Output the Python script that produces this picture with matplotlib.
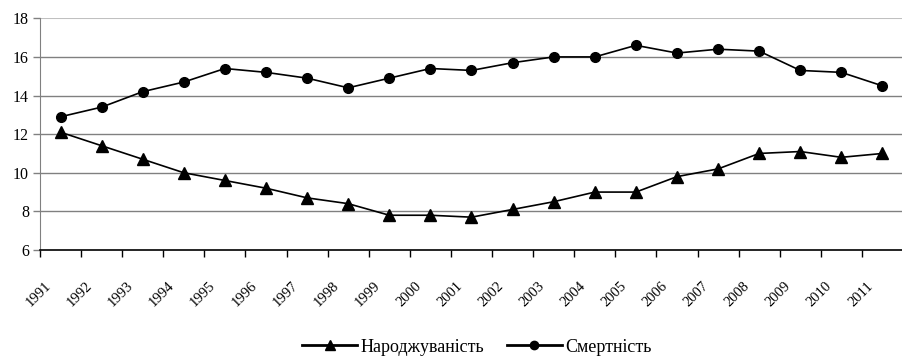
import numpy as np
import matplotlib.pyplot as plt
from matplotlib.lines import Line2D
import matplotlib.transforms as mtransforms

plt.rcParams['font.family'] = ['Liberation Serif', 'DejaVu Serif']

years = [str(y) for y in range(1991, 2012)]
birth = [12.1, 11.4, 10.7, 10.0, 9.6, 9.2, 8.7, 8.4, 7.8, 7.8, 7.7,
         8.1, 8.5, 9.0, 9.0, 9.8, 10.2, 11.0, 11.1, 10.8, 11.0]
death = [12.9, 13.4, 14.2, 14.7, 15.4, 15.2, 14.9, 14.4, 14.9, 15.4, 15.3,
         15.7, 16.0, 16.0, 16.6, 16.2, 16.4, 16.3, 15.3, 15.2, 14.5]
yticks = [6, 8, 10, 12, 14, 16, 18]

fig = plt.figure(figsize=(9.03, 3.61), dpi=100)
ax = fig.add_axes([40/903, 1-250/361, 1-40/903, (250-18.3)/361])

x = np.arange(len(years))
ax.plot(x, birth, color='black', lw=1.2, marker='^', ms=8, zorder=3)
ax.plot(x, death, color='black', lw=1.2, marker='o', ms=7, zorder=3)

ax.set_ylim(6, 18)
ax.set_yticks(yticks)
ax.set_xlim(-0.5, 20.5 - 9/41.5)
# category boundaries as ticks, labels at centres
ax.set_xticks(np.arange(-0.5, 21, 1))
ax.set_xticklabels([])
ax.set_xticks(x, minor=True)
ax.set_xticklabels(years, minor=True, rotation=45, ha='right',
                   rotation_mode='anchor', fontsize=10.5)
ax.tick_params(axis='x', which='minor', length=0, pad=21)
ax.tick_params(axis='x', which='major', length=5, width=1, color='black')
off = mtransforms.ScaledTranslation(-16/100, 0, fig.dpi_scale_trans)
for lab in ax.get_xticklabels(minor=True):
    lab.set_transform(lab.get_transform() + off)

ax.tick_params(axis='y', length=5, width=1, color='#808080', labelsize=11.5, pad=3)
for v in yticks[1:-1]:
    ax.axhline(v, color='#808080', lw=1, zorder=1)
ax.axhline(18, color='#c0c0c0', lw=1.5, zorder=1)

for s in ['top', 'right']:
    ax.spines[s].set_visible(False)
ax.spines['left'].set_color('#808080')
ax.spines['bottom'].set_color('black')
ax.spines['bottom'].set_linewidth(1.2)

handles = [Line2D([], [], color='black', lw=2, marker='^', ms=7),
           Line2D([], [], color='black', lw=2, marker='o', ms=6)]
fig.legend(handles, ['Народжуваність', 'Смертність'], loc='center',
           bbox_to_anchor=(477/903, 1-347/361), ncol=2, frameon=False,
           fontsize=13, handlelength=3.0, handletextpad=0.2, columnspacing=1.3)

fig.savefig('out.png', dpi=100)
